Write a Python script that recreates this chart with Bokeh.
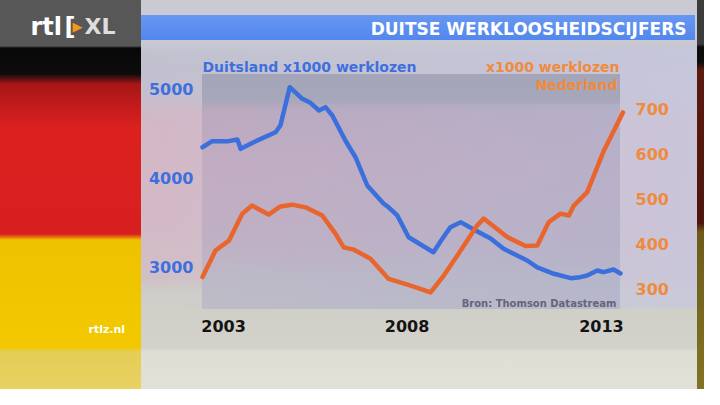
from bokeh.plotting import figure
from bokeh.models import Range1d, LinearAxis, FixedTicker, Label
from bokeh.embed import file_html
from bokeh.resources import INLINE

# ---------------- data ----------------
years_de = [2003.00, 2003.24, 2003.64, 2003.86, 2003.94, 2004.26, 2004.80, 2004.92,
            2005.15, 2005.46, 2005.66, 2005.87, 2006.03, 2006.20, 2006.52, 2006.77,
            2007.06, 2007.21, 2007.46, 2007.58, 2007.80, 2008.08, 2008.69, 2008.91,
            2009.11, 2009.36, 2009.73, 2010.10, 2010.42, 2010.84, 2011.00, 2011.25,
            2011.66, 2012.07, 2012.31, 2012.48, 2012.73, 2012.88, 2013.13, 2013.30]
werklozen_de = [4345, 4413, 4413, 4432, 4327, 4401, 4513, 4589,
                5018, 4888, 4843, 4757, 4794, 4701, 4420, 4233,
                3916, 3841, 3714, 3673, 3580, 3336, 3168, 3318,
                3449, 3505, 3412, 3322, 3206, 3112, 3075, 2997,
                2926, 2877, 2888, 2907, 2963, 2944, 2974, 2930]

years_nl = [2003.00, 2003.32, 2003.65, 2003.98, 2004.22, 2004.63, 2004.92, 2005.21,
            2005.54, 2005.95, 2006.28, 2006.48, 2006.73, 2007.14, 2007.59, 2008.13,
            2008.62, 2008.95, 2009.28, 2009.52, 2009.77, 2009.93, 2010.51, 2010.96,
            2011.25, 2011.53, 2011.82, 2012.03, 2012.15, 2012.48, 2012.89, 2013.14,
            2013.36]
werklozen_nl = [326, 385, 407, 467, 485, 465, 483, 487,
                481, 463, 422, 392, 387, 367, 322, 307,
                292, 330, 374, 407, 441, 456, 415, 395,
                396, 448, 467, 463, 485, 515, 607, 652,
                692]

year_labels = ["2003", "2008", "2013"]
year_label_pos = [2003.52, 2008.04, 2012.83]
de_ticks = [3000, 4000, 5000]
nl_ticks = [300, 400, 500, 600, 700]

# ---------------- layout helpers (pixel -> data, for placement only) ----------------
W, H = 704, 389

def X(px):
    return 2003.0 + (px - 202) / 40.58

def Y(py):
    return 5000.0 - (py - 88.3) * 11.211

def NL(py):
    return 700.0 - (py - 108.3) * 2.2222

FONT = "DejaVu Sans"
BLUE = "#3b6fdc"
BLUE_TXT = "#3d70de"
ORANGE = "#e8652d"
ORANGE_TXT = "#ef8b40"

p = figure(width=W, height=H, output_backend="svg", toolbar_location=None,
           x_range=Range1d(X(0), X(W)), y_range=Range1d(Y(H), Y(0)),
           x_axis_location=None, y_axis_location=None,
           min_border_left=0, min_border_right=0, min_border_top=0,
           min_border_bottom=0, border_fill_color=None,
           background_fill_color=None, outline_line_color=None)
p.extra_y_ranges = {"nl": Range1d(NL(H), NL(0))}
p.xgrid.visible = False
p.ygrid.visible = False

bg_layers = [
    "linear-gradient(90deg, rgba(176,180,206,0) 0%, rgba(176,180,206,0.55) 100%) 202px 104px / 418px 205px no-repeat",
    "linear-gradient(180deg, #a4a5b9 0px, #a7a7bb 26px, #bba9bf 36px, #c2acc2 90px, #c0b0c4 170px, #bdb9c6 205px, #bebcc7 235px) 202px 74px / 418px 235px no-repeat",
    "linear-gradient(180deg, #6797f2 0px, #5287ee 25px) 141px 15px / 554px 25px no-repeat",
    "linear-gradient(90deg, rgba(200,200,220,0) 0%, rgba(200,200,222,0.8) 100%) 141px 48px / 556px 260px no-repeat",
    "linear-gradient(180deg, #cbcbd4 0px, #c8c8d3 45px, #c1c1cf 53px, #c4bfce 93px, #d3b8c6 118px, #d4b9c6 228px, #d0c0c6 278px, #cecdc7 292px, #d3d2ca 348px, #dfded5 352px, #e3e2d8 405px) 141px 0px / 556px 405px no-repeat",
    "linear-gradient(180deg, #3c3c3c 0px, #3c3c3c 44px, #0c0c0c 47px, #0c0c0c 62px, #5c1a0e 70px, #4e150b 223px, #6d5c18 232px, #857526 405px) 697px 0px / 30px 405px no-repeat",
    "linear-gradient(180deg, #575757 0px, #575757 46px, #080808 48px, #0c0c0c 74px, #a81616 84px, #dc2020 128px, #d81f1f 234px, #eec200 240px, #f2c900 348px, #e5cd55 351px, #e9d468 405px) 0px 0px / 141px 405px no-repeat",
]
p.styles = {"background": ", ".join(bg_layers)}

def style_axis(ax, color, standoff):
    ax.axis_line_color = None
    ax.major_tick_line_color = None
    ax.minor_tick_line_color = None
    ax.major_tick_out = 0
    ax.major_tick_in = 0
    ax.minor_tick_out = 0
    ax.minor_tick_in = 0
    ax.major_label_standoff = standoff
    ax.major_label_text_font = FONT
    ax.major_label_text_font_style = "bold"
    ax.major_label_text_font_size = "16px"
    ax.major_label_text_color = color

yl = LinearAxis(ticker=FixedTicker(ticks=de_ticks), fixed_location=X(202))
style_axis(yl, BLUE_TXT, 9)
p.add_layout(yl, "left")

yr = LinearAxis(y_range_name="nl", ticker=FixedTicker(ticks=nl_ticks),
                fixed_location=X(623))
style_axis(yr, ORANGE_TXT, 12)
p.add_layout(yr, "right")

xa = LinearAxis(ticker=FixedTicker(ticks=year_label_pos), fixed_location=Y(309))
xa.major_label_overrides = {pos: lab for pos, lab in zip(year_label_pos, year_labels)}
style_axis(xa, "#141414", 10)
p.add_layout(xa, "below")

p.line(years_de, werklozen_de, line_color=BLUE, line_width=4.5,
       line_join="round", line_cap="round")
p.line(years_nl, werklozen_nl, line_color=ORANGE, line_width=4.5,
       line_join="round", line_cap="round", y_range_name="nl")

def lab(x, y, text, color, size, align="left", style="bold"):
    p.add_layout(Label(x=X(x), y=Y(y), text=text, text_color=color,
                       text_font=FONT, text_font_style=style,
                       text_font_size=size, text_align=align,
                       text_baseline="middle"))

lab(202, 66, "Duitsland x1000 werklozen", BLUE_TXT, "14px")
lab(619, 66, "x1000 werklozen", ORANGE_TXT, "14px", "right")
lab(617, 84, "Nederland", ORANGE_TXT, "14px", "right")
lab(616, 303, "Bron: Thomson Datastream", "#66647a", "10px", "right")
lab(686, 28, "DUITSE WERKLOOSHEIDSCIJFERS", "#ffffff", "17px", "right")
lab(30, 26, "rtl", "#ffffff", "24px")
lab(64, 26, "[", "#ffffff", "24px")
lab(72, 26, "\u25b6", "#f39a1e", "13px")
lab(84, 26, "XL", "#dedede", "22px")
lab(88, 329, "rtlz.nl", "#ffffff", "11px")

open("out.html", "w").write(file_html(p, INLINE))
